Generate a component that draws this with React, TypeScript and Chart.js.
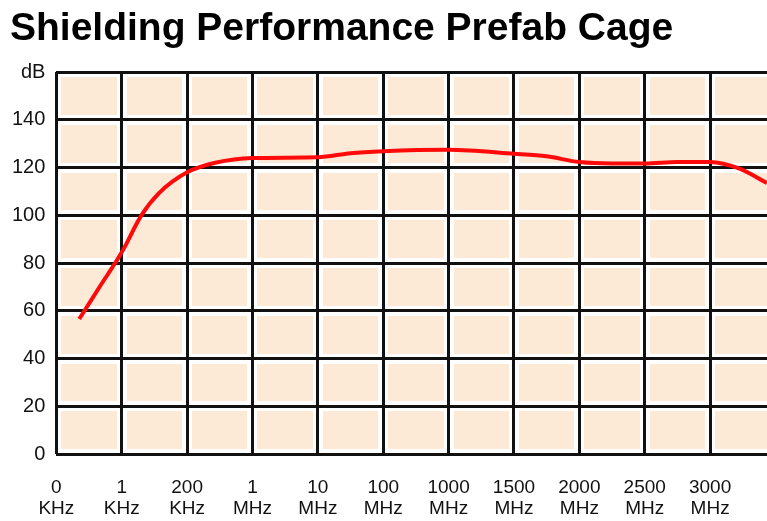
import React, { useEffect, useRef } from "react";
import { Chart, registerables } from "chart.js";

Chart.register(...registerables);

const titleText = "Shielding Performance Prefab Cage";
const xTickTop = ["0", "1", "200", "1", "10", "100", "1000", "1500", "2000", "2500", "3000"];
const xTickUnit = ["KHz", "KHz", "KHz", "MHz", "MHz", "MHz", "MHz", "MHz", "MHz", "MHz", "MHz"];
const yTicks = [0, 20, 40, 60, 80, 100, 120, 140, 160];
const yUnit = "dB";
// curve samples: position along the frequency categories, and attenuation in dB
const curvePos = [0.35, 0.66, 1, 1.3, 1.57, 2, 2.43, 3, 4, 4.5, 5, 6, 7, 7.5, 8, 8.5, 9, 9.5, 10, 10.45, 10.87];
const curveDb = [56.6, 70, 84.5, 100, 109.3, 118, 122, 124, 124.3, 126, 126.8, 127.4, 125.8, 124.7, 122.3, 121.7, 121.7, 122.3, 122.3, 119.5, 113.5];

const X_MAX = 10.87;

const bgPlugin = {
  id: "cellBg",
  beforeDraw(chart: any) {
    const { ctx, chartArea } = chart;
    if (!chartArea) return;
    ctx.save();
    ctx.fillStyle = "#fce9d6";
    ctx.fillRect(chartArea.left, chartArea.top, chartArea.right - chartArea.left, chartArea.bottom - chartArea.top);
    ctx.restore();
  },
};

export default function App() {
  const ref = useRef<HTMLCanvasElement | null>(null);
  useEffect(() => {
    if (!ref.current) return;
    const xTickValues = xTickTop.map((_, i) => ({ value: i }));
    const yTickValues = yTicks.map((v) => ({ value: v }));
    const chart = new Chart(ref.current, {
      type: "line",
      data: {
        datasets: [
          {
            data: curvePos.map((p, i) => ({ x: p, y: curveDb[i] })),
            borderColor: "#ff0a0a",
            borderWidth: 4,
            pointRadius: 0,
            cubicInterpolationMode: "monotone",
            fill: false,
            xAxisID: "x",
            yAxisID: "y",
          },
        ],
      },
      options: {
        animation: false,
        responsive: false,
        maintainAspectRatio: false,
        devicePixelRatio: 1,
        layout: { padding: { left: 1, right: 0, top: 72, bottom: -21 } },
        plugins: {
          legend: { display: false },
          tooltip: { enabled: false },
          title: { display: false },
        },
        scales: {
          x: {
            type: "linear",
            min: 0,
            max: X_MAX,
            afterBuildTicks: (s: any) => {
              s.ticks = xTickValues.map((t) => ({ ...t }));
            },
            grid: { color: "#111", lineWidth: 3, drawTicks: false, z: -1 },
            border: { display: false },
            ticks: {
              color: "#111",
              padding: 23,
              maxRotation: 0,
              autoSkip: false,
              font: { family: "Liberation Sans", size: 19, lineHeight: 1.1 },
              callback: (v: any) => {
                const i = Math.round(Number(v));
                return [xTickTop[i], xTickUnit[i]];
              },
            },
          },
          y: {
            type: "linear",
            min: 0,
            max: 160,
            afterBuildTicks: (s: any) => {
              s.ticks = yTickValues.map((t) => ({ ...t }));
            },
            grid: { color: "#111", lineWidth: 3, drawTicks: false, z: -1 },
            border: { display: false },
            ticks: {
              color: "#111",
              padding: 11,
              font: { family: "Liberation Sans", size: 20 },
              callback: (v: any) => (Number(v) === 160 ? yUnit : String(v)),
            },
          },
          xw: {
            type: "linear",
            position: "top",
            min: 0,
            max: X_MAX,
            afterBuildTicks: (s: any) => {
              s.ticks = xTickValues.map((t) => ({ ...t }));
            },
            grid: { color: "#ffffff", lineWidth: 10, drawTicks: false, z: -2 },
            border: { display: false },
            ticks: { display: false },
          },
          yw: {
            type: "linear",
            position: "right",
            min: 0,
            max: 160,
            afterBuildTicks: (s: any) => {
              s.ticks = yTickValues.map((t) => ({ ...t }));
            },
            grid: { color: "#ffffff", lineWidth: 10, drawTicks: false, z: -2 },
            border: { display: false },
            ticks: { display: false },
          },
        },
      },
      plugins: [bgPlugin],
    } as any);
    return () => chart.destroy();
  }, []);
  return (
    <div style={{ position: "fixed", left: 0, top: 0, width: 767, height: 521, background: "#fff", overflow: "hidden" }}>
      <canvas ref={ref} width={767} height={521} style={{ display: "block" }} />
      <div
        style={{
          position: "absolute",
          left: 10,
          top: 7,
          fontFamily: "'Liberation Sans', sans-serif",
          fontWeight: "bold",
          fontSize: 39,
          lineHeight: "39px",
          color: "#000",
          whiteSpace: "nowrap",
        }}
      >
        {titleText}
      </div>
    </div>
  );
}
